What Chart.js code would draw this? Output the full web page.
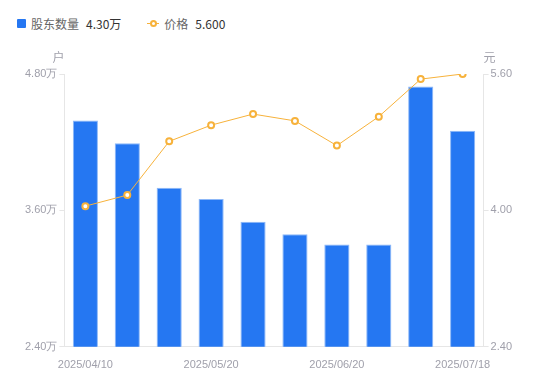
<!DOCTYPE html>
<html>
<head>
<meta charset="utf-8">
<script src="https://cdn.jsdelivr.net/npm/chart.js@4"></script>
<style>
  html, body { margin: 0; padding: 0; background: #fff; }
  #wrap { position: relative; width: 550px; height: 381px; font-family: "Noto Sans CJK SC", "Noto Sans", sans-serif; }
  #legend { position: absolute; left: 17px; top: 15px; font-size: 12px; color: #666; display: flex; align-items: center; white-space: nowrap; }
  #legend .item { display: flex; align-items: center; margin-right: 26px; }
  #legend .sq { width: 9px; height: 9px; background: #2577f2; border-radius: 1px; margin-right: 5px; }
  #legend .ln { position: relative; width: 12px; height: 9px; margin-right: 5px; }
  #legend .ln::before { content: ""; position: absolute; left: 0; right: 0; top: 4px; height: 1px; background: #f7b23b; }
  #legend .ln::after { content: ""; position: absolute; left: 3px; top: 1px; width: 3px; height: 3px; border: 2px solid #f7b23b; border-radius: 50%; background: #fff; }
  #legend .val { color: #333; margin-left: 7px; }
  canvas { position: absolute; left: 0; top: 0; }
</style>
</head>
<body>
<div id="wrap">
  <div id="legend">
    <div class="item"><span class="sq"></span>股东数量<span class="val">4.30万</span></div>
    <div class="item"><span class="ln"></span>价格<span class="val">5.600</span></div>
  </div>
  <canvas id="chart" width="550" height="381"></canvas>
</div>
<script>
// 数据
const dates = ['2025/04/10', '2025/04/18', '2025/04/30', '2025/05/20', '2025/05/30',
               '2025/06/10', '2025/06/20', '2025/06/30', '2025/07/10', '2025/07/18'];
const holders = [4.39, 4.19, 3.80, 3.70, 3.50, 3.39, 3.30, 3.30, 4.69, 4.30]; // 万户
const prices = [4.05, 4.18, 4.81, 5.00, 5.13, 5.05, 4.76, 5.10, 5.54, 5.60];
const shownDates = [0, 3, 6, 9];
const leftTicks = [2.4, 4.8, 1.2];   // min, max, step
const rightTicks = [2.4, 5.6, 1.6];

const tickColor = '#a0a0ab';
const lineColor = '#e6e6e6';

// 坐标轴单位
const unitPlugin = {
    id: 'units',
    afterDraw(chart) {
        const ctx = chart.ctx;
        const a = chart.chartArea;
        ctx.save();
        ctx.fillStyle = tickColor;
        ctx.font = '12px "Noto Sans CJK SC", sans-serif';
        ctx.textBaseline = 'middle';
        ctx.textAlign = 'center';
        ctx.fillText('户', a.left - 6, a.top - 17);
        ctx.fillText('元', a.right + 6, a.top - 17);
        ctx.restore();
    }
};

const ctx = document.getElementById('chart').getContext('2d');
new Chart(ctx, {
    type: 'bar',
    data: {
        labels: dates,
        datasets: [
            {
                type: 'line',
                label: '价格',
                data: prices,
                yAxisID: 'y1',
                borderColor: '#f7b23b',
                borderWidth: 1,
                pointRadius: 3,
                pointBorderWidth: 2,
                pointBackgroundColor: '#fff',
                pointBorderColor: '#f7b23b',
                tension: 0,
                order: 0
            },
            {
                label: '股东数量',
                data: holders,
                yAxisID: 'y',
                backgroundColor: '#2577f2',
                borderColor: '#8db8f8',
                borderWidth: 1,
                categoryPercentage: 0.6,
                barPercentage: 1,
                order: 1
            }
        ]
    },
    options: {
        responsive: false,
        animation: false,
        layout: { padding: { top: 74, left: 23, right: 36, bottom: 5 } },
        plugins: {
            legend: { display: false },
            tooltip: { enabled: false }
        },
        scales: {
            x: {
                offset: true,
                grid: { display: false },
                border: { display: true, color: lineColor },
                ticks: {
                    color: tickColor,
                    font: { size: 11, family: 'Liberation Sans, Arial, sans-serif' },
                    autoSkip: false,
                    maxRotation: 0,
                    padding: 4,
                    callback: function(v, i) {
                        return shownDates.includes(i) ? dates[i] : '';
                    }
                }
            },
            y: {
                position: 'left',
                min: leftTicks[0],
                max: leftTicks[1],
                grid: { drawOnChartArea: false, color: lineColor, tickLength: 5 },
                border: { color: lineColor },
                ticks: {
                    stepSize: leftTicks[2],
                    color: tickColor,
                    font: { size: 11, family: 'Liberation Sans, Arial, sans-serif' },
                    padding: 2,
                    callback: v => v.toFixed(2) + '万'
                }
            },
            y1: {
                position: 'right',
                min: rightTicks[0],
                max: rightTicks[1],
                grid: { drawOnChartArea: false, color: lineColor, tickLength: 5 },
                border: { color: lineColor },
                ticks: {
                    stepSize: rightTicks[2],
                    color: tickColor,
                    font: { size: 11, family: 'Liberation Sans, Arial, sans-serif' },
                    padding: 2,
                    callback: v => v.toFixed(2)
                }
            }
        }
    },
    plugins: [unitPlugin]
});
</script>
</body>
</html>
